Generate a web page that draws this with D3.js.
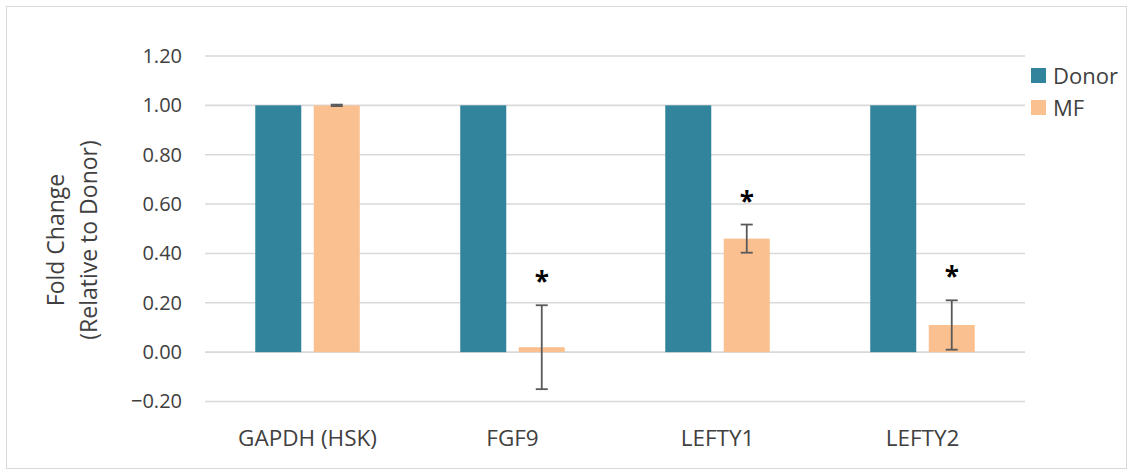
<!DOCTYPE html>
<html>
<head>
<meta charset="utf-8">
<script src="https://cdn.jsdelivr.net/npm/d3@7"></script>
<style>
  body { margin: 0; background: #fff; }
  text { font-family: "Open Sans", sans-serif; fill: #404040; }
</style>
</head>
<body>
<script>
// data
var genes = ['GAPDH (HSK)', 'FGF9', 'LEFTY1', 'LEFTY2'];
var seriesNames = ['Donor', 'MF'];
var donorVals = [1.00, 1.00, 1.00, 1.00];
var mfVals = [1.00, 0.02, 0.46, 0.11];
var mfErr = [0.003, 0.17, 0.057, 0.10];
var starred = [false, true, true, true];
var yTicks = [-0.2, 0, 0.2, 0.4, 0.6, 0.8, 1.0, 1.2];

var W = 1133, H = 471;
var colors = { Donor: '#31849b', MF: '#fac090' };

var svg = d3.select('body').append('svg').attr('width', W).attr('height', H)

// chart frame
svg.append('rect')
  .attr('x', 6.5).attr('y', 6.5).attr('width', 1120).attr('height', 462)
  .attr('fill', 'none').attr('stroke', '#d9d9d9').attr('stroke-width', 1)

var left = 205, right = 1025;
var y = d3.scaleLinear().domain([-0.2, 1.2]).range([401.5, 56]);
var x0 = d3.scaleBand().domain(genes).range([left, right]).paddingInner(0).paddingOuter(0);
var barW = 46, gap = 12.5;
var x1 = d3.scaleOrdinal().domain(seriesNames).range([-(gap / 2 + barW), gap / 2]);

// gridlines
svg.append('g').selectAll('line.grid')
  .data(yTicks)
  .enter().append('line')
    .attr('class', 'grid')
    .attr('x1', left).attr('x2', right)
    .attr('y1', d => y(d)).attr('y2', d => y(d))
    .attr('stroke', '#d9d9d9').attr('stroke-width', 1.6)

// y axis labels
var yAxis = d3.axisLeft(y).tickValues(yTicks).tickFormat(d3.format('.2f')).tickSize(0).tickPadding(0);
var yg = svg.append('g').attr('transform', 'translate(182,0)').call(yAxis)
yg.select('.domain').remove()
yg.selectAll('text').attr('font-size', 20).attr('fill', '#404040').attr('font-family', '"Open Sans", sans-serif')

// y title
var title = svg.append('text')
  .attr('transform', 'translate(72,240) rotate(-90)')
  .attr('text-anchor', 'middle')
  .attr('font-size', 23)
title.append('tspan').attr('x', 0).attr('dy', '-0.35em').text('Fold Change')
title.append('tspan').attr('x', 0).attr('dy', '1.45em').text('(Relative to Donor)')

// bars
var rows = genes.map((g, i) => ({ gene: g, Donor: donorVals[i], MF: mfVals[i], err: mfErr[i], star: starred[i] }));

var groups = svg.selectAll('g.gene')
  .data(rows)
  .enter().append('g')
    .attr('class', 'gene')
    .attr('transform', d => `translate(${x0(d.gene) + x0.bandwidth() / 2},0)`)

groups.selectAll('rect')
  .data(d => seriesNames.map(s => ({ s: s, v: d[s] })))
  .enter().append('rect')
    .attr('x', d => x1(d.s))
    .attr('width', barW)
    .attr('y', d => y(Math.max(0, d.v)))
    .attr('height', d => Math.abs(y(d.v) - y(0)))
    .attr('fill', d => colors[d.s])

// error bars on MF
var ex = gap / 2 + barW / 2;
groups.each(function(d) {
  var g = d3.select(this);
  var top = y(d.MF + d.err), bot = y(d.MF - d.err);
  g.append('line').attr('x1', ex).attr('x2', ex).attr('y1', top).attr('y2', bot)
    .attr('stroke', '#595959').attr('stroke-width', 1.8)
  g.selectAll('line.cap')
    .data([top, bot])
    .enter().append('line')
      .attr('class', 'cap')
      .attr('x1', ex - 6).attr('x2', ex + 6)
      .attr('y1', v => v).attr('y2', v => v)
      .attr('stroke', '#595959').attr('stroke-width', 1.8)
  if (d.star) {
    g.append('text')
      .attr('x', ex).attr('y', top - 14)
      .attr('text-anchor', 'middle')
      .attr('font-size', 26)
      .attr('font-weight', 'bold')
      .style('fill', '#000')
      .text('*')
  }
})

// category labels
svg.selectAll('text.cat')
  .data(genes)
  .enter().append('text')
    .attr('class', 'cat')
    .attr('x', d => x0(d) + x0.bandwidth() / 2)
    .attr('y', 446)
    .attr('text-anchor', 'middle')
    .attr('font-size', 22.5)
    .text(d => d)

// legend
var leg = svg.selectAll('g.leg')
  .data(seriesNames)
  .enter().append('g')
    .attr('class', 'leg')
    .attr('transform', (d, i) => `translate(1031,${68 + i * 32})`)
leg.append('rect').attr('width', 15).attr('height', 15).attr('fill', d => colors[d])
leg.append('text').attr('x', 22).attr('y', 15.5).attr('font-size', 22).text(d => d)
</script>
</body>
</html>
